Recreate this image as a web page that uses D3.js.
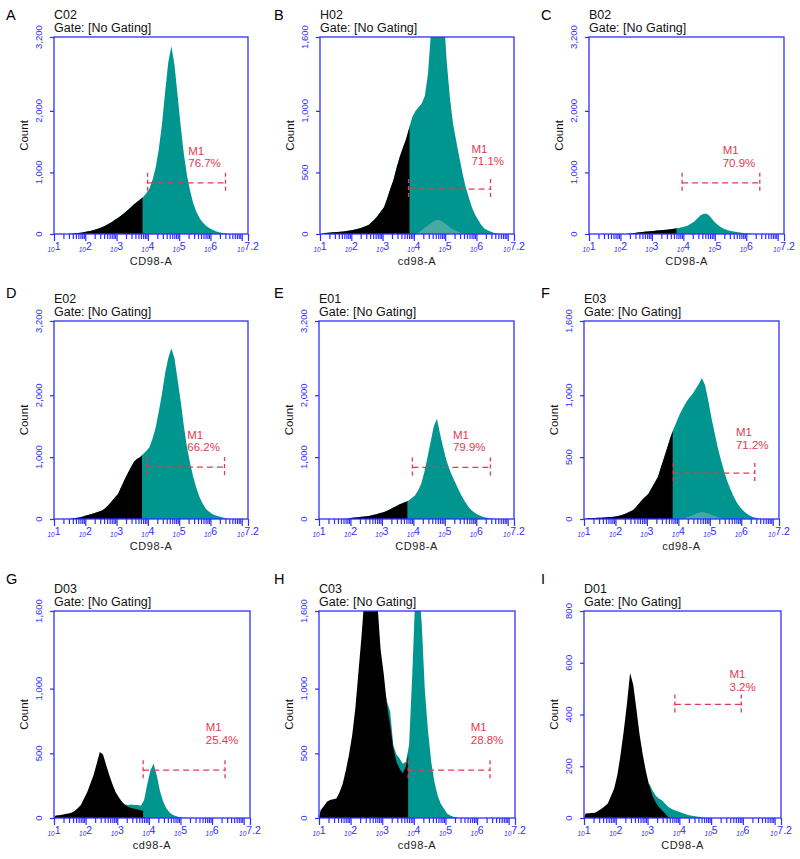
<!DOCTYPE html>
<html><head><meta charset="utf-8">
<script src="https://cdn.jsdelivr.net/npm/d3@7"></script>
<style>
body{margin:0;background:#fff}
svg{display:block}
text{font-family:"Liberation Sans",Arial,sans-serif}
</style>
</head><body>
<svg id="chart" width="800" height="859"></svg>
<script>
// ---------------- DATA ----------------
const panelLetters = ["A","B","C","D","E","F","G","H","I"];
const sampleNames  = ["C02","H02","B02","E02","E01","E03","D03","C03","D01"];
const gateText     = "Gate: [No Gating]";
const xTitles      = ["CD98-A","cd98-A","CD98-A","CD98-A","CD98-A","cd98-A","cd98-A","cd98-A","CD98-A"];
const yTitle       = "Count";
const yMax         = [3200,1600,3200,3200,3200,1600,1600,1600,800];
const yTickSets    = [
  [0,1000,2000,3200],[0,500,1000,1600],[0,1000,2000,3200],
  [0,1000,2000,3200],[0,1000,2000,3200],[0,500,1000,1600],
  [0,500,1000,1600],[0,500,1000,1600],[0,200,400,600,800]
];
const xExpTicks    = ["1","2","3","4","5","6","7.2"];
const gateName     = "M1";
const gatePct      = ["76.7%","71.1%","70.9%","66.2%","79.9%","71.2%","25.4%","28.8%","3.2%"];
const gateStart    = [3.99,3.83,3.96,3.97,3.97,3.84,3.82,3.82,3.86];   // log10 units
const gateEnd      = [6.48,6.45,6.43,6.45,6.45,6.43,6.41,6.41,5.95];
const gateLevel    = [832,365,832,839,833,371,370,370,439];            // count units
const gateLabelX   = [5.29,5.84,5.25,5.26,5.26,5.83,5.80,5.80,5.58];
const gateLabelY   = [1088,560,1092,1097,1097,567,572,572,491];
// black = gated-out part (x below this log10 value)
const blackCut     = [3.83,3.86,3.78,3.81,3.81,3.82,3.82,3.82,null];

// histogram bins: log10 start 1.0, 1.1, ... 7.1 (width 0.1 decade)
const tealA = [0,0,0,0,0,4,10,16,22,30, 40,50,62,78,95,115,140,165,195,230, 265,300,340,385,430,480,520,560,600,660,
  740,880,1080,1380,1780,2300,2780,3050,2750,2250, 1750,1300,950,700,500,360,260,190,140,100, 72,50,34,22,12,6,2,0,0,0, 0,0];
const tealB = [0,8,10,12,14,16,18,20,24,28, 32,38,45,52,62,73,95,120,150,185, 220,290,370,440,540,627,700,770,860,950,
  1000,1030,1060,1120,1300,1650,1950,2100,2000,1800, 1400,1110,900,760,627,500,385,300,220,160, 115,75,45,30,20,10,5,0,0,0, 0,0];
const tealC = [0,0,0,0,0,0,0,0,0,0, 0,0,4,10,18,25,30,35,40,45, 50,55,60,65,70,75,82,90,98,108,
  120,140,170,205,255,305,330,330,285,220, 165,125,95,75,58,45,36,28,20,14, 9,5,2,0,0,0,0,0,0,0, 0,0];
const tealD = [0,0,0,0,0,5,12,20,30,45, 60,72,88,105,122,140,180,230,290,350, 410,520,630,730,830,920,970,1000,1050,1100,
  1160,1300,1480,1740,2020,2350,2600,2760,2600,2250, 1900,1500,1160,900,680,500,355,250,167,120, 86,62,44,32,18,6,2,0,0,0, 0,0];
const tealE = [0,0,0,0,0,0,0,0,0,10, 20,25,30,35,40,45,55,68,82,95, 110,130,155,180,208,235,255,275,300,340,
  380,460,570,760,1000,1250,1500,1620,1375,1150, 950,800,680,570,460,360,275,200,140,100, 70,48,30,20,10,4,0,0,0,0, 0,0];
const tealF = [0,8,8,9,10,10,12,14,16,19, 22,28,36,46,58,70,95,125,155,180, 205,250,295,340,420,500,580,660,730,790,
  850,900,945,980,1010,1050,1090,1140,1080,960, 820,700,580,480,390,310,245,185,137,100, 70,48,30,18,10,4,0,0,0,0, 0,0];
const tealG = [0,0,0,0,0,0,0,0,0,0, 0,0,0,0,0,0,0,0,0,0, 120,110,105,100,105,100,100,95,140,260,
  370,420,330,210,130,75,45,26,15,8, 4,2,0,0,0,0,0,0,0,0, 0,0,0,0,0,0,0,0,0,0, 0,0];
const tealH = [0,0,0,0,0,0,0,0,0,0, 0,0,0,0,0,0,0,0,0,0, 1000,900,825,565,490,460,420,435,565,1110,
  1750,1850,1500,980,670,435,280,176,110,73, 34,20,10,5,0,0,0,0,0,0, 0,0,0,0,0,0,0,0,0,0, 0,0];
const tealI = [0,0,0,0,0,0,0,0,0,0, 0,0,0,0,0,0,0,0,0,0, 134,108,88,75,69,56,43,36,30,26,
  21,17,13,10,8,6,4,2,0,0, 0,0,0,0,0,0,0,0,0,0, 0,0,0,0,0,0,0,0,0,0, 0,0];
const blackG = [20,22,25,30,35,40,55,75,100,150, 200,265,330,420,510,490,410,330,260,200, 160,125,100,85,78,72,66,60,55,50,
  0,0,0,0,0,0,0,0,0,0, 0,0,0,0,0,0,0,0,0,0, 0,0,0,0,0,0,0,0,0,0, 0,0];
const blackH = [60,90,125,140,145,150,200,265,370,490, 640,850,1135,1420,1750,1900,1900,1800,1650,1300, 1110,875,720,540,435,380,345,400,520,500,
  0,0,0,0,0,0,0,0,0,0, 0,0,0,0,0,0,0,0,0,0, 0,0,0,0,0,0,0,0,0,0, 0,0];
const blackI = [17,18,19,20,28,36,45,56,85,114, 166,244,335,440,560,515,420,322,244,180, 127,88,62,43,30,17,4,0,0,0,
  0,0,0,0,0,0,0,0,0,0, 0,0,0,0,0,0,0,0,0,0, 0,0,0,0,0,0,0,0,0,0, 0,0];
// faint overlaid sub-population (B, F)
const faintB = [0,0,0,0,0,0,0,0,0,0, 0,0,0,0,0,0,0,0,0,0, 0,0,0,0,0,0,0,0,0,0,
  0,15,30,50,70,90,105,115,110,95, 75,55,38,25,14,6,0,0,0,0, 0,0,0,0,0,0,0,0,0,0, 0,0];
const faintF = [0,0,0,0,0,0,0,0,0,0, 0,0,0,0,0,0,0,0,0,0, 0,0,0,0,0,0,0,0,0,0,
  0,0,10,20,30,42,50,56,52,44, 34,24,15,8,3,0,0,0,0,0, 0,0,0,0,0,0,0,0,0,0, 0,0];

const tealSeries  = [tealA,tealB,tealC,tealD,tealE,tealF,tealG,tealH,tealI];
const blackSeries = [tealA,tealB,tealC,tealD,tealE,tealF,blackG,blackH,blackI];
const faintSeries = [null,faintB,null,null,null,faintF,null,null,null];

// ---------------- LAYOUT / STYLE ----------------
const layout = [
  {x:54,y:37,w:194,h:197,lx:6,ly:20},  {x:320,y:37,w:194,h:197,lx:274,ly:20}, {x:589,y:37,w:195,h:197,lx:541,ly:20},
  {x:54,y:321,w:194,h:198,lx:6,ly:298},{x:319,y:321,w:195,h:198,lx:274,ly:298},{x:584,y:321,w:195,h:198,lx:541,ly:298},
  {x:54,y:611,w:196,h:207,lx:6,ly:584},{x:319,y:611,w:196,h:207,lx:274,ly:584},{x:584,y:611,w:197,h:207,lx:541,ly:584}
];
const BLUE = "#2e2eff", TEAL = "#00968f", BLACK = "#000", RED = "#e23a52", FAINT = "#5fb0a6";
const binW = 0.1;
const binStart = d3.range(tealA.length).map(i => +(1 + i*binW).toFixed(1));

const svg = d3.select("#chart");

layout.forEach((L, p) => {
  const g = svg.append("g").attr("transform", `translate(${L.x},${L.y})`);
  const x = d3.scaleLog().domain([10, Math.pow(10,7.2)]).range([0, L.w]);
  const xe = e => x(Math.pow(10, e));
  const y = d3.scaleLinear().domain([0, yMax[p]]).range([L.h, 0]);

  const clipId = "clip" + p;
  g.append("clipPath").attr("id", clipId).append("rect").attr("width", L.w).attr("height", L.h);

  // points at bin centres, anchored to zero at both ends
  const toPts = vals => {
    const pts = [[binStart[0], 0]];
    vals.forEach((v,i) => pts.push([binStart[i] + binW/2, v]));
    pts.push([binStart[vals.length-1] + binW, 0]);
    return pts;
  };
  const area = d3.area().curve(d3.curveLinear)
    .x(d => xe(d[0])).y0(y(0)).y1(d => y(d[1]));

  const plot = g.append("g").attr("clip-path", `url(#${clipId})`);
  plot.append("path").attr("d", area(toPts(tealSeries[p]))).attr("fill", TEAL);
  if (faintSeries[p]) {
    plot.append("path").attr("d", area(toPts(faintSeries[p]))).attr("fill", FAINT).attr("opacity", 0.75);
  }
  if (blackCut[p] !== null) {
    const cid = "cut" + p;
    g.append("clipPath").attr("id", cid).append("rect")
      .attr("width", xe(blackCut[p])).attr("height", L.h);
    plot.append("g").attr("clip-path", `url(#${cid})`)
      .append("path").attr("d", area(toPts(blackSeries[p]))).attr("fill", BLACK);
  } else {
    plot.append("path").attr("d", area(toPts(blackSeries[p]))).attr("fill", BLACK);
  }

  // frame
  g.append("rect").attr("width", L.w).attr("height", L.h)
    .attr("fill", "none").attr("stroke", BLUE).attr("stroke-width", 1.3);

  // x ticks (log minor / major)
  const minor = [], major = [];
  for (let k = 1; k <= 6; k++) {
    major.push(Math.pow(10,k));
    for (let m = 2; m <= 9; m++) minor.push(m*Math.pow(10,k));
  }
  major.push(Math.pow(10,7)); major.push(Math.pow(10,7.2));
  const xAxMinor = d3.axisBottom(x).tickValues(minor).tickSize(5).tickFormat("");
  const xAxMajor = d3.axisBottom(x).tickValues(major).tickSize(7).tickFormat("");
  [xAxMinor, xAxMajor].forEach(ax => {
    const a = g.append("g").attr("transform", `translate(0,${L.h})`).call(ax);
    a.select(".domain").remove();
    a.selectAll("line").attr("stroke", BLUE).attr("stroke-width", 1.2);
  });
  // x tick labels
  const xl = g.append("g").attr("fill", BLUE).attr("font-style", "italic");
  xExpTicks.forEach(t => {
    const tx = xe(+t);
    const txt = xl.append("text").attr("x", tx).attr("y", L.h + 18).attr("text-anchor", "middle");
    txt.append("tspan").attr("font-size", 6.5).text("10");
    txt.append("tspan").attr("font-size", 10.5).attr("dy", -2).attr("font-style","normal").text(t);
  });
  g.append("text").attr("x", L.w/2).attr("y", L.h + 31).attr("text-anchor", "middle")
    .attr("font-size", 11).attr("fill", "#222").attr("letter-spacing", 0.6).text(xTitles[p]);

  // y axis
  const yAx = d3.axisLeft(y).tickValues(yTickSets[p]).tickSize(4).tickFormat("");
  const ya = g.append("g").call(yAx);
  ya.select(".domain").remove();
  ya.selectAll("line").attr("stroke", BLUE).attr("stroke-width", 1.2);
  const fmt = d3.format(",");
  yTickSets[p].forEach(v => {
    g.append("text").attr("transform", `translate(-12,${y(v)}) rotate(-90)`)
      .attr("text-anchor", "middle").attr("font-size", 9.5).attr("fill", BLUE).text(fmt(v));
  });
  g.append("text").attr("transform", `translate(-26,${L.h/2}) rotate(-90)`)
    .attr("text-anchor", "middle").attr("font-size", 11.5).attr("fill", "#111").text(yTitle);

  // titles
  g.append("text").attr("x", 0).attr("y", -18).attr("font-size", 12.5).attr("fill", "#111").text(sampleNames[p]);
  g.append("text").attr("x", 0).attr("y", -5).attr("font-size", 12.5).attr("fill", "#111").text(gateText);
  svg.append("text").attr("x", L.lx).attr("y", L.ly).attr("font-size", 14.5).attr("fill", "#000").text(panelLetters[p]);

  // gate marker
  const gx1 = xe(gateStart[p]), gx2 = xe(gateEnd[p]), gy = y(gateLevel[p]);
  const gg = g.append("g").attr("stroke", RED).attr("stroke-width", 1.3).attr("fill", "none");
  gg.append("line").attr("x1", gx1).attr("x2", gx2).attr("y1", gy).attr("y2", gy).attr("stroke-dasharray", "6,4");
  [gx1, gx2].forEach(cx => gg.append("line").attr("x1", cx).attr("x2", cx)
    .attr("y1", gy - 10).attr("y2", gy + 10).attr("stroke-dasharray", "4,3"));
  const tx = xe(gateLabelX[p]), ty = y(gateLabelY[p]);
  g.append("text").attr("x", tx).attr("y", ty - 12.5).attr("font-size", 11.5).attr("fill", RED).text(gateName);
  g.append("text").attr("x", tx).attr("y", ty).attr("font-size", 11.5).attr("fill", RED).text(gatePct[p]);
});
</script>
</body></html>
